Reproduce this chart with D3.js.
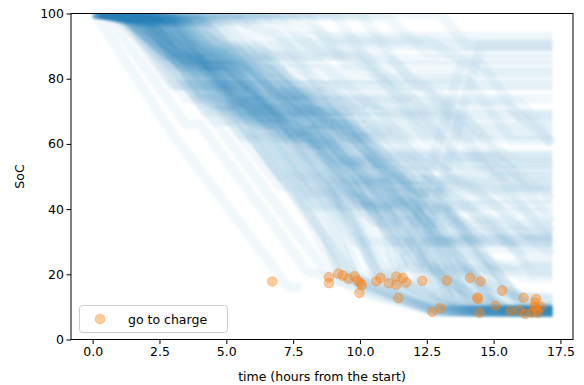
<!DOCTYPE html>
<html>
<head>
<meta charset="utf-8">
<script src="https://cdn.jsdelivr.net/npm/d3@7"></script>
<style>
  body { margin: 0; background: #fff; }
  svg { display: block; font-family: "DejaVu Sans", sans-serif; }
</style>
</head>
<body>
<svg id="chart" width="584" height="385"></svg>
<script>
// ticks
const xTicks = [0, 2.5, 5, 7.5, 10, 12.5, 15, 17.5];
const yTicks = [0, 20, 40, 60, 80, 100];

// trajectories that run down to ~20 and then sit near 8-9 (each: [hours, SoC] breakpoints)
const depletedTrips = [
  [[0.1,100],[2.9,64],[6.5,25],[7.3,16],[7.8,16]],
  [[0,100],[0.5,100],[3.5,66],[4,66],[6.8,35],[7.4,28],[8,21],[8.8,19],[10.5,14],[12.8,8.5],[17.2,8.5]],
  [[0.2,100],[1,100],[3,78],[3.6,78],[6,51],[8.9,19],[10,16],[13,8.5],[17.2,8.5]],
  [[0,100],[1.5,98],[4,74],[5,74],[7.5,45],[9.2,20],[11,14],[13.2,8.5],[17.2,8.5]],
  [[0.3,100],[1.2,100],[3.2,78],[5.2,78],[7.8,49],[9.5,19],[11.4,12.7],[12.9,8.6],[17.2,8.6]],
  [[0,100],[2,97],[5,67],[5.5,67],[8.2,37],[9.8,19],[12,11],[13.5,8.4],[17.2,8.4]],
  [[0.5,100],[2.2,98],[4.2,78],[6,78],[8.6,49],[8.8,47],[10,20],[13.8,8.5],[17.2,8.5]],
  [[0.1,100],[2.5,97],[5,72],[7,72],[9.6,44],[10.6,20],[12.7,9],[17.2,9]],
  [[0.4,100],[1.8,100],[4.5,70],[6.2,70],[8.5,45],[9.9,18],[10.1,14.3],[12.7,9],[17.2,9]],
  [[0.2,100],[3,97],[5.4,75],[8,75],[10.5,46],[11.4,19],[13.5,9],[17.2,9]],
  [[0,100],[2.8,98],[5.3,73],[5.8,73],[8.3,45],[9,45],[11.1,19],[14,8.7],[17.2,8.7]],
  [[0.6,100],[3.5,97],[6.1,70],[8.5,70],[11,43],[11.7,19],[13,13],[14.4,8.5],[17.2,8.5]],
  [[0.3,100],[3.2,98],[5.2,78],[6.5,78],[9,50],[9.6,50],[12.3,18],[14.3,12],[15,8.5],[17.2,8.5]],
  [[0.8,100],[4,97],[6.4,73],[7.5,73],[10,45],[10.5,45],[13.2,18],[15.1,10.3],[15.6,8.7],[17.2,8.7]],
  [[0.1,100],[2.6,100],[5.5,68],[7.5,68],[9.8,42],[11.5,42],[14.1,19],[16.1,12.8],[17.2,12.5]],
  [[0.7,100],[3.8,98],[6.4,71],[8,71],[10.5,44],[11.6,44],[14.5,17.8],[15.3,15],[16.5,10],[17.2,10]],
  [[0,100],[1.2,100],[3.5,74],[4.5,74],[7,47],[7.6,47],[9.4,20],[10,18],[12.5,9],[17.2,9]],
  [[0.4,100],[2.5,97],[4.5,78],[5.5,78],[8,50],[8.8,50],[10.8,19],[13,9],[17.2,9]],
  [[1,100],[3,98],[5.5,73],[6,73],[8.8,42],[9.3,42],[11.4,19],[13.4,9],[17.2,9]],
  [[0.2,100],[2,100],[4.8,70],[6.5,70],[9.6,36],[10.7,19],[12.8,9],[17.2,9]],
  [[0.5,100],[4.5,97],[6.7,76],[8.5,76],[11.3,44],[12,42],[14.4,13],[16.2,8],[17.2,8]],
  [[1.5,100],[4.2,98],[6.5,76],[7.5,76],[10,48],[11,48],[13.7,18],[15.6,8.7],[17.2,8.7]],
  [[0.9,100],[5,97],[7.8,69],[9.5,69],[12.5,38],[13.2,38],[15.3,15],[16.6,12.4],[17.2,12]],
  [[0.3,100],[2.3,100],[5.6,63],[6.4,63],[8.8,37],[9.8,19.4],[12.9,8.5],[17.2,8.5]],
  [[0.6,100],[3,98],[6,67],[8,67],[11.3,30],[11.8,30],[12.7,20],[13.5,12],[14,9],[17.2,9]],
  [[0.1,100],[1.6,100],[4,73],[5,73],[7.8,42],[8.8,30],[9.2,20.2],[9.6,19],[12.7,9.5],[17.2,9.5]],
  [[0.2,100],[3.6,97],[6.2,71],[9,71],[11,49],[12.5,49],[14.6,25],[16,12],[16.8,10],[17.2,10]],
  [[0.4,100],[1.4,100],[4.2,70],[5.8,70],[8.3,42],[9.1,40],[10.8,20],[11.7,17.5],[14,8.5],[17.2,8.5]],
  [[0.2,100],[2,98],[3.5,90],[4.3,90],[6.8,68],[7.6,68],[10.2,42],[10.8,42],[12.4,24],[13.3,18],[14.2,9],[17.2,9]],
  [[0.6,100],[2.5,97],[4.3,84],[5.2,84],[7.9,60],[8.8,60],[11,38],[11.8,36],[13,20],[13.8,15],[14.7,8.8],[17.2,8.8]],
  [[0,100],[1.6,98],[3.3,86],[4,86],[6.2,68],[7,68],[9.3,44],[10,44],[11.7,26],[12.3,19],[13.2,8.6],[17.2,8.6]],
  [[0.4,100],[2.8,97],[4.6,86],[5.6,86],[8,66],[8.9,66],[11.3,43],[12.4,40],[13.6,24],[14.2,19],[15.3,9.2],[17.2,9.2]],
  [[0.3,100],[1.9,98],[3.6,88],[4.6,88],[7.4,63],[8.1,63],[10.4,37],[11.2,35],[12.3,22],[12.9,17],[13.8,8.4],[17.2,8.4]],
  [[0.8,100],[3,98],[4.9,86],[6.4,86],[8.6,68],[9.4,68],[12,45],[12.8,45],[14.6,26],[15.4,18],[16.2,9.1],[17.2,9.1]]
];

// later arrivals at the low band (slower descent after the charge call)
const bandTrips = [
  [[0.2,100],[1.2,98],[3.4,84],[4.2,84],[6.6,66],[7.5,66],[10.6,40],[11.2,40],[12.9,21],[14.2,13],[14.9,9],[17.2,9]],
  [[0.5,100],[1.7,97],[3.9,84],[5,84],[7.5,64],[8.3,64],[11,42],[11.9,42],[13.7,22],[14.4,18],[15.5,8.6],[17.2,8.6]],
  [[0.1,100],[0.7,100],[2.9,84],[3.6,84],[6,66],[6.8,66],[9.6,43],[10.1,43],[12.2,24],[13,19],[14.2,8.3],[17.2,8.3]],
  [[0.8,100],[2.2,97],[4.4,84],[6.1,84],[8.5,66],[9.3,66],[11.9,44],[12.4,44],[14.3,25],[15.2,19],[16.2,9],[17.2,9]],
  [[0.4,100],[1.3,98],[3.6,82],[4.3,82],[7,62],[7.8,62],[10.4,40],[10.9,40],[12.4,25],[13.3,17],[13.9,9.2],[17.2,9.2]],
  [[0.6,100],[2.4,97],[4.9,80],[5.6,80],[8.2,60],[9,60],[11.4,39],[12.2,39],[13.9,23],[14.5,16],[15.2,8.8],[17.2,8.8]],
  [[0.3,100],[1,100],[3.1,84],[3.9,84],[6.4,64],[7.3,64],[9.9,42],[10.5,42],[12.1,27],[12.6,19],[13.2,10],[17.2,10]],
  [[0.9,100],[3.4,97],[5.6,82],[7,82],[9.4,62],[10.3,62],[12.7,40],[13.2,40],[15,22],[15.6,16],[16.4,8.5],[17.2,8.5]],
  [[0,100],[1.5,98],[3.7,84],[4.6,84],[7.2,62],[8,62],[10.7,39],[11.3,39],[13.1,22],[13.8,15],[14.5,8.4],[17.2,8.4]],
  [[0.2,100],[2,97],[4.2,84],[5.1,84],[7.7,62],[8.7,62],[11.5,38],[12.1,38],[13.4,23],[14,18],[14.8,9.5],[17.2,9.5]],
  [[0.1,100],[2.2,98],[4,88],[4.8,88],[6.5,76],[7.2,76],[9.5,55],[10.3,55],[12.5,30],[13.2,22],[14.6,9],[17.2,9]],
  [[0.3,100],[2.6,97],[4.3,89],[5.4,89],[7.2,74],[7.8,74],[10.2,52],[10.8,52],[12.6,31],[13.6,19],[14.3,8.6],[17.2,8.6]],
  [[0,100],[1.9,98],[3.8,87],[4.4,87],[6.4,72],[7.3,72],[9.3,53],[10,53],[12,33],[12.8,22],[13.6,8.8],[17.2,8.8]],
  [[0.5,100],[3.2,97],[4.8,90],[5.6,90],[7.6,75],[8.4,75],[10.6,54],[11.2,54],[13.2,32],[14.3,20],[15.1,8.2],[17.2,8.2]],
  [[0.2,100],[2.9,98],[4.5,89],[5.2,87],[7,76],[7.9,76],[9.9,57],[10.5,57],[12.2,38],[13.1,26],[14.1,9.3],[17.2,9.3]],
  [[0.7,100],[3.6,97],[5.3,88],[6,88],[7.9,72],[8.7,72],[10.9,51],[11.4,51],[13,34],[13.9,23],[15.4,9],[17.2,9]],
  [[0.4,100],[2.4,98],[4.1,88],[5,88],[6.9,73],[7.6,73],[9.7,54],[10.3,54],[12.3,34],[12.9,26],[13.5,8.5],[17.2,8.5]],
  [[0.1,100],[3.4,97],[5,89],[6.2,89],[8,76],[8.6,76],[10.7,57],[11.4,57],[13.6,35],[14.5,24],[15.8,8.7],[17.2,8.7]]
];

// trajectories that park at some level until the end of the day
const idleTrips = [
  [[0.5,100],[4,98],[5,90],[17.2,90]],
  [[1,100],[6,97],[6.8,91],[17.2,91]],
  [[0.2,100],[3,97],[4.5,83],[10,83],[10.8,81],[17.2,81]],
  [[0,100],[2,98],[4,78],[9,78],[10.2,65],[17.2,65]],
  [[0.3,100],[1.5,100],[4.5,67],[7,67],[9.3,41],[17.2,41]],
  [[0.1,100],[2.5,97],[4.8,74],[12,74],[13.8,52],[17.2,52]],
  [[0.6,100],[3,98],[5.6,70],[8,70],[10.6,42],[12,42],[13,31],[17.2,31]],
  [[0.2,100],[1.8,100],[4,76],[6,76],[8.5,48],[11,48],[12.6,30],[17.2,30]],
  [[0.4,100],[2.2,97],[5.6,62],[17.2,62]],
  [[0.9,100],[4,98],[6,78],[17.2,78]],
  [[0,100],[3.3,97],[6,70],[10,70],[11.2,57],[17.2,57]],
  [[1.2,100],[8,100],[9.5,84],[17.2,84]],
  [[0.5,100],[2.7,98],[5.5,69],[7.5,69],[10.5,36],[17.2,36]],
  [[0.3,100],[5.5,98],[7.5,78],[11,78],[13.5,50],[17.2,50]],
  [[0.1,100],[2.9,97],[5.3,73],[6.5,73],[9.5,39],[11,39],[12.6,21],[17.2,21]],
  [[0.7,100],[3.4,98],[6.1,70],[13,70],[14.5,53],[17.2,53]],
  [[2,100],[10,100],[12,78],[17.2,78]],
  [[0.2,100],[1,100],[3,78],[4.5,78],[7,50],[8,50],[9.8,30],[17.2,30]],
  [[0.5,100],[2,97],[4.5,72],[6,72],[8.2,47],[17.2,47]],
  [[0,100],[3.5,98],[5.8,75],[9,75],[11,50],[11.8,50],[13.5,31],[17.2,31]],
  [[1.5,100],[13,100],[14,90],[17.2,90]],
  [[0.3,100],[4.6,97],[6.8,75],[13,75],[15.5,47],[17.2,47]],
  [[0.1,100],[2.3,98],[4.9,71],[5.5,71],[8,44],[10,44],[12,22],[17.2,22]],
  [[0.8,100],[3.8,97],[6.5,70],[7.2,70],[9.4,45],[13,45],[15,23],[17.2,23]],
  [[0.4,100],[2.8,98],[5.2,73],[16,73],[17.2,60]],
  [[0.6,100],[4.2,97],[6,80],[8,80],[10.4,53],[15,53],[17.2,29]],
  [[0,100],[1.7,100],[4,75],[5,75],[8,41],[12,41],[13,30],[17.2,30]],
  [[0.2,100],[6.5,98],[8.3,80],[14,80],[15.7,61],[17.2,61]],
  [[1,100],[2.5,97],[5.3,68],[14,68],[17.2,36]],
  [[0.5,100],[3.1,98],[5.5,73],[10.5,73],[13.4,41],[14.5,41],[16.5,20],[17.2,20]],
  [[0.3,100],[2.2,97],[4.3,77],[7,77],[9.5,49],[10.6,49],[12.3,30],[13.5,30],[15,13],[17.2,13]],
  [[0.7,100],[9,100],[11,78],[12.5,78],[15,50],[17.2,50]],
  [[0.3,100],[1.2,98],[3,88],[4.5,86],[6,75],[8,74],[9.5,63],[17.2,63]],
  [[0.1,100],[0.8,100],[2.5,87],[3.5,87],[6.2,66],[7,66],[9,54],[17.2,54]],
  [[0.6,100],[1.5,98],[3.8,84],[5,84],[7,69],[9,69],[11,56],[17.2,56]],
  [[0.2,100],[1,100],[3.2,85],[4,85],[6.5,67],[8.5,60],[10,60],[12,46],[17.2,46]],
  [[0.4,100],[2,97],[4,86],[5.5,80],[7,80],[9.5,62],[11,62],[13.5,43],[17.2,43]],
  [[0.8,100],[1.8,98],[4,85],[5,82],[6,82],[8.5,63],[9.5,63],[12,44],[14,35],[17.2,35]],
  [[0.5,100],[1.1,100],[3.5,83],[4.2,83],[7,63],[8,63],[10.5,45],[11.5,45],[13.5,33],[17.2,33]],
  [[0,100],[0.9,100],[3,86],[3.8,86],[6.3,68],[7.5,68],[10,49],[17.2,49]],
  [[1.1,100],[2.4,97],[4.5,86],[6.5,86],[8.5,72],[12,69],[17.2,69]],
  [[0.3,100],[2.6,98],[4.5,88],[9,88],[9.6,86],[17.2,86]],
  [[0.7,100],[1.6,100],[3.6,86],[4.4,86],[7,66],[17.2,66]],
  [[0.2,100],[1.3,98],[3.4,86],[5.2,86],[7.5,70],[8.5,70],[11,52],[12.3,52],[14.5,37],[15.5,37],[17.2,26]],
  [[0.5,100],[0.9,100],[2.8,87],[3.6,87],[5.8,71],[7.5,71],[10.3,50],[11.5,50],[14,33],[17.2,33]],
  [[0.1,100],[1.9,97],[4.1,84],[6,84],[8.3,66],[9.5,66],[12.4,45],[13.5,45],[16,27],[17.2,27]],
  [[0.9,100],[3.3,98],[5.5,85],[8.5,85],[10.8,69],[17.2,69]],
  [[0.4,100],[2.1,97],[4.2,85],[5.5,85],[7.6,70],[10,70],[12.5,53],[13,53],[15.4,39],[17.2,39]],
  [[0.6,100],[1.4,100],[3.3,87],[5,87],[7,73],[7.6,73],[10,56],[15,56],[17.2,43]],
  [[0.2,100],[3.9,98],[5.8,87],[11,87],[12.8,74],[17.2,74]],
  [[0,100],[1.1,100],[3.1,86],[4,86],[6.1,71],[6.8,71],[9.1,55],[10.4,55],[12.6,40],[14,40],[16.3,24],[17.2,24]],
  [[0.3,100],[2.7,97],[4.6,87],[7.2,87],[9.4,72],[11.6,72],[13.8,56],[17.2,56]],
  [[0.8,100],[5.5,98],[7,93],[17.2,93]],
  [[1.3,100],[7.5,98],[9,92],[12.5,92],[14.5,82],[17.2,82]],
  [[0.5,100],[11,99],[12.5,88],[17.2,88]],
  [[0.2,100],[2.4,98],[4.5,85],[6.2,85],[8.8,66],[10,66],[12.5,48],[14.8,48],[17.2,33]],
  [[0.7,100],[1.9,100],[4.3,82],[5.3,82],[7.8,64],[8.6,64],[10.9,47],[12.3,47],[14.9,28],[17.2,28]],
  [[0.4,100],[1.6,98],[3.7,85],[4.6,85],[7.4,64],[8.2,64],[10.5,48],[11,48],[13.9,26],[14.3,26],[16.1,19],[17.2,19]],
  [[0.1,100],[4.8,97],[6.6,87],[9.8,87],[12,71],[13.4,71],[15.8,54],[17.2,54]],
  [[0.6,100],[2.9,98],[5.1,83],[6.6,83],[9.1,64],[11.4,64],[13.9,46],[17.2,46]],
  [[1,100],[6.8,99],[8.5,88],[10,88],[12.2,72],[15.5,72],[17.2,60]],
  [[0.3,100],[1.5,100],[3.9,82],[4.9,82],[7.3,65],[9.8,65],[12,49],[14,49],[16.3,32],[17.2,32]]
];

// trajectories that recharge and climb back up
const rechargedTrips = [
  [[0.2,100],[2,98],[4.5,72],[5.5,72],[8,45],[9.5,45],[11.5,22],[12.2,22],[14.5,90],[17.2,90]],
  [[0.5,100],[3,97],[6,66],[7,66],[9.8,35],[10.5,20],[11.5,20],[13.8,85],[14.5,85],[16,68],[17.2,68]]
];

// "go to charge" events
const chargeTimes = [6.72, 8.84, 8.84, 9.19, 9.36, 9.57, 9.8, 9.92, 10.02, 10.07, 9.98,
  10.61, 10.77, 11.08, 11.36, 11.36, 11.6, 11.73, 11.44, 12.33, 13.25, 12.7, 13.0,
  14.12, 14.51, 14.39, 14.41, 14.47, 15.32, 15.07, 15.63, 15.97, 16.12, 16.18, 16.43,
  16.53, 16.59, 16.62, 16.65, 16.78, 16.55];
const chargeSoc = [17.8, 19.1, 17.3, 20.2, 19.6, 18.6, 19.4, 18.0, 17.3, 16.6, 14.3,
  17.8, 18.9, 17.2, 19.3, 16.8, 18.9, 17.5, 12.7, 18.0, 18.1, 8.5, 9.6,
  18.9, 17.8, 12.9, 12.4, 8.2, 15.0, 10.3, 8.7, 8.9, 12.8, 7.9, 8.3,
  10.0, 12.4, 9.2, 8.2, 10.0, 11.3];

const margin = { top: 13.5, right: 11, bottom: 45.5, left: 71 };
const width = 584, height = 385;

const svg = d3.select('#chart');

const x = d3.scaleLinear()
  .domain([-0.81, 17.97])
  .range([margin.left, width - margin.right]);

const y = d3.scaleLinear()
  .domain([0, 100])
  .range([height - margin.bottom, margin.top]);

const defs = svg.append('defs');
defs.append('clipPath')
  .attr('id', 'plot-clip')
  .append('rect')
  .attr('x', margin.left)
  .attr('y', margin.top)
  .attr('width', width - margin.left - margin.right)
  .attr('height', height - margin.top - margin.bottom);
defs.append('filter')
  .attr('id', 'soft')
  .append('feGaussianBlur')
  .attr('stdDeviation', 1.2);

const line = d3.line()
  .x(d => x(d[0]))
  .y(d => y(d[1]));

// blue SoC traces
const trips = depletedTrips.concat(bandTrips, idleTrips, rechargedTrips);
svg.append('g')
  .attr('clip-path', 'url(#plot-clip)')
  .append('g')
  .attr('filter', 'url(#soft)')
  .selectAll('path')
  .data(trips)
  .enter()
  .append('path')
  .attr('d', line)
  .attr('fill', 'none')
  .attr('stroke', '#1f77b4')
  .attr('stroke-opacity', 0.055)
  .attr('stroke-width', 10)
  .attr('stroke-linejoin', 'round');

// orange charge points
svg.append('g')
  .selectAll('circle')
  .data(chargeTimes.map((t, i) => [t, chargeSoc[i]]))
  .enter()
  .append('circle')
  .attr('cx', d => x(d[0]))
  .attr('cy', d => y(d[1]))
  .attr('r', 4.8)
  .attr('fill', '#ff7f0e')
  .attr('fill-opacity', 0.4)
  .attr('stroke', '#ff7f0e')
  .attr('stroke-opacity', 0.4)
  .attr('stroke-width', 1);

// axes
const xAxis = svg.append('g')
  .attr('transform', `translate(0,${height - margin.bottom})`)
  .call(d3.axisBottom(x).tickValues(xTicks).tickFormat(d3.format('.1f')).tickSize(4.5).tickSizeOuter(0));

const yAxis = svg.append('g')
  .attr('transform', `translate(${margin.left},0)`)
  .call(d3.axisLeft(y).tickValues(yTicks).tickSize(4.5).tickSizeOuter(0));

[xAxis, yAxis].forEach(a => {
  a.select('.domain').remove();
  a.selectAll('line').attr('stroke', '#000').attr('stroke-width', 1);
  a.selectAll('text')
    .attr('fill', '#000')
    .style('font-family', '"DejaVu Sans", sans-serif')
    .style('font-size', '12.5px');
});
xAxis.selectAll('text').attr('dy', '0.71em').attr('y', 8);
yAxis.selectAll('text').attr('x', -7);

// frame
svg.append('rect')
  .attr('x', margin.left)
  .attr('y', margin.top)
  .attr('width', width - margin.left - margin.right)
  .attr('height', height - margin.top - margin.bottom)
  .attr('fill', 'none')
  .attr('stroke', '#000')
  .attr('stroke-width', 1);

// axis labels
svg.append('text')
  .attr('x', (margin.left + width - margin.right) / 2)
  .attr('y', 381)
  .attr('text-anchor', 'middle')
  .style('font-size', '12.5px')
  .text('time (hours from the start)');

svg.append('text')
  .attr('transform', `translate(24,${(margin.top + height - margin.bottom) / 2}) rotate(-90)`)
  .attr('text-anchor', 'middle')
  .style('font-size', '12.5px')
  .text('SoC');

// legend
const legend = svg.append('g');
legend.append('rect')
  .attr('x', 79.5)
  .attr('y', 305.5)
  .attr('width', 148)
  .attr('height', 27)
  .attr('rx', 3)
  .attr('fill', '#fff')
  .attr('fill-opacity', 0.8)
  .attr('stroke', '#ccc');
legend.append('circle')
  .attr('cx', 100)
  .attr('cy', 319)
  .attr('r', 4.8)
  .attr('fill', '#ff7f0e')
  .attr('fill-opacity', 0.4)
  .attr('stroke', '#ff7f0e')
  .attr('stroke-opacity', 0.4);
legend.append('text')
  .attr('x', 128)
  .attr('y', 323.5)
  .style('font-size', '12.5px')
  .text('go to charge');
</script>
</body>
</html>
